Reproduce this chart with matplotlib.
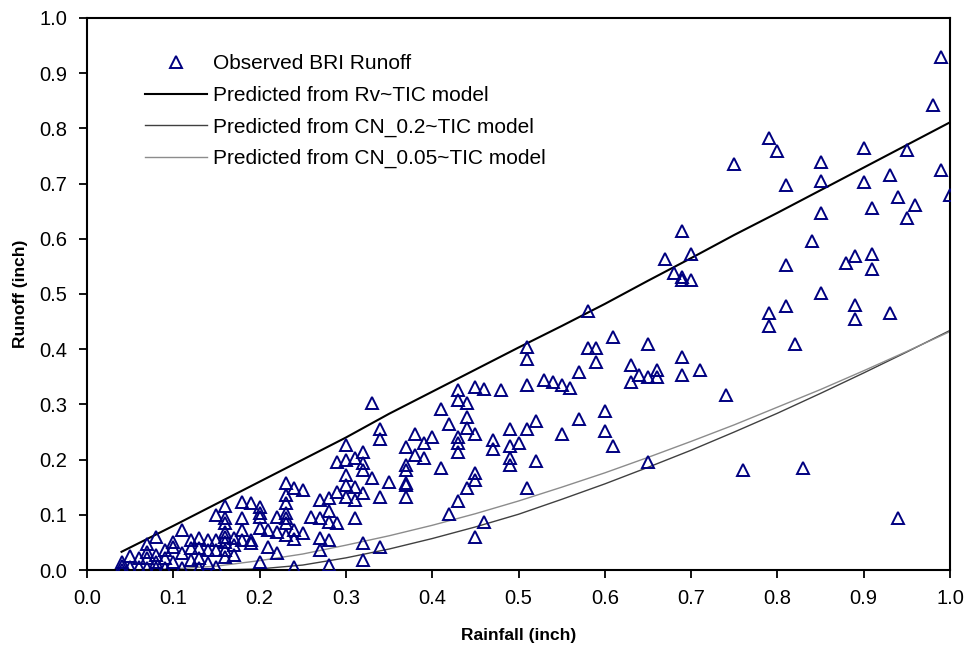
import matplotlib
matplotlib.use("Agg")
import matplotlib.pyplot as plt
from matplotlib.ticker import FormatStrFormatter, MultipleLocator

plt.rcParams['font.family'] = ['Liberation Sans', 'DejaVu Sans']

# Observed BRI events, rainfall (inch) and runoff (inch)
rain = [
    0.04, 0.04, 0.04, 0.05, 0.05, 0.06, 0.06,
    0.07, 0.07, 0.07, 0.07, 0.08, 0.08, 0.08, 0.08,
    0.09, 0.09, 0.09, 0.10, 0.10, 0.10, 0.11, 0.11, 0.11,
    0.12, 0.12, 0.12, 0.13, 0.13, 0.13, 0.13, 0.14, 0.14, 0.14,
    0.15, 0.15, 0.15, 0.15,
    0.16, 0.16, 0.16, 0.16, 0.16, 0.16, 0.16, 0.16,
    0.17, 0.17, 0.17, 0.18, 0.18, 0.18, 0.18, 0.19, 0.19, 0.19,
    0.20, 0.20, 0.20, 0.20, 0.20, 0.21, 0.21, 0.22, 0.22, 0.22,
    0.23, 0.23, 0.23, 0.23, 0.23, 0.23, 0.23,
    0.24, 0.24, 0.24, 0.24, 0.25, 0.25, 0.26,
    0.27, 0.27, 0.27, 0.27, 0.28, 0.28, 0.28, 0.28, 0.28,
    0.29, 0.29, 0.29, 0.30, 0.30, 0.30, 0.30, 0.30,
    0.31, 0.31, 0.31, 0.31, 0.32, 0.32, 0.32, 0.32, 0.32, 0.32,
    0.33, 0.33, 0.34, 0.34, 0.34, 0.34, 0.35,
    0.37, 0.37, 0.37, 0.37, 0.37, 0.37, 0.38, 0.38, 0.39, 0.39,
    0.40, 0.41, 0.41, 0.42, 0.42,
    0.43, 0.43, 0.43, 0.43, 0.43, 0.43, 0.44, 0.44, 0.44, 0.44,
    0.45, 0.45, 0.45, 0.45, 0.45, 0.46, 0.46, 0.47, 0.47, 0.48,
    0.49, 0.49, 0.49, 0.49, 0.50, 0.51, 0.51, 0.51, 0.51, 0.51,
    0.52, 0.52, 0.53, 0.54, 0.55, 0.55, 0.56, 0.57, 0.57,
    0.58, 0.58, 0.59, 0.59, 0.60, 0.60, 0.61, 0.61, 0.63, 0.63, 0.64,
    0.65, 0.65, 0.65, 0.66, 0.66, 0.67, 0.68,
    0.69, 0.69, 0.69, 0.69, 0.69, 0.70, 0.70, 0.71, 0.74, 0.75, 0.76,
    0.79, 0.79, 0.79, 0.80, 0.81, 0.81, 0.81, 0.82, 0.83, 0.84,
    0.85, 0.85, 0.85, 0.85, 0.88, 0.89, 0.89, 0.89, 0.90, 0.90,
    0.91, 0.91, 0.91, 0.93, 0.93, 0.94, 0.94, 0.95, 0.95, 0.96,
    0.98, 0.99, 0.99, 1.00,
]
runoff = [
    0.000, 0.007, 0.015, 0.005, 0.025, 0.005, 0.022,
    0.004, 0.022, 0.033, 0.047, 0.004, 0.015, 0.027, 0.060,
    0.004, 0.022, 0.036, 0.015, 0.042, 0.051, 0.004, 0.031, 0.072,
    0.018, 0.040, 0.054, 0.004, 0.022, 0.040, 0.058, 0.013, 0.036, 0.054,
    0.005, 0.036, 0.054, 0.100,
    0.116, 0.094, 0.085, 0.069, 0.060, 0.051, 0.036, 0.024,
    0.058, 0.046, 0.027, 0.123, 0.094, 0.072, 0.054, 0.121, 0.054, 0.049,
    0.114, 0.103, 0.096, 0.076, 0.014, 0.072, 0.042, 0.096, 0.069, 0.031,
    0.157, 0.136, 0.121, 0.103, 0.094, 0.085, 0.063,
    0.149, 0.072, 0.056, 0.005, 0.145, 0.067, 0.096,
    0.127, 0.094, 0.058, 0.036, 0.130, 0.107, 0.087, 0.054, 0.009,
    0.196, 0.141, 0.085, 0.226, 0.199, 0.172, 0.154, 0.132,
    0.203, 0.150, 0.127, 0.094, 0.214, 0.194, 0.181, 0.140, 0.049, 0.018,
    0.302, 0.167, 0.255, 0.237, 0.132, 0.042, 0.159,
    0.223, 0.190, 0.181, 0.158, 0.154, 0.132, 0.246, 0.208, 0.230, 0.203,
    0.241, 0.291, 0.184, 0.264, 0.101,
    0.326, 0.308, 0.241, 0.230, 0.214, 0.125, 0.302, 0.277, 0.257, 0.149,
    0.332, 0.246, 0.176, 0.163, 0.060, 0.328, 0.087, 0.235, 0.219, 0.326,
    0.255, 0.225, 0.203, 0.190, 0.230, 0.404, 0.382, 0.335, 0.255, 0.149,
    0.270, 0.198, 0.344, 0.341, 0.335, 0.246, 0.330, 0.359, 0.273,
    0.469, 0.402, 0.402, 0.377, 0.288, 0.252, 0.422, 0.225, 0.371, 0.341, 0.353,
    0.410, 0.350, 0.196, 0.362, 0.350, 0.563, 0.538,
    0.614, 0.531, 0.525, 0.386, 0.353, 0.572, 0.525, 0.362, 0.317, 0.735, 0.181,
    0.783, 0.466, 0.442, 0.759, 0.697, 0.552, 0.478, 0.410, 0.184, 0.596,
    0.740, 0.705, 0.647, 0.502, 0.556, 0.569, 0.480, 0.455, 0.765, 0.703,
    0.656, 0.573, 0.546, 0.715, 0.466, 0.676, 0.094, 0.760, 0.637, 0.661,
    0.842, 0.930, 0.724, 0.679,
]

# predicted runoff curves
pred_rain = [0.04, 0.10, 0.15, 0.20, 0.25, 0.30, 0.35, 0.40, 0.45, 0.50,
             0.55, 0.60, 0.65, 0.70, 0.75, 0.80, 0.85, 0.90, 0.95, 1.00]
rv_pred = [0.033, 0.080, 0.120, 0.160, 0.200, 0.240, 0.283, 0.323, 0.363, 0.403,
           0.442, 0.482, 0.524, 0.565, 0.607, 0.647, 0.688, 0.729, 0.770, 0.811]
cn02_pred = [0.000, 0.000, 0.000, 0.002, 0.009, 0.022, 0.038, 0.057, 0.078, 0.101,
             0.128, 0.156, 0.186, 0.217, 0.250, 0.284, 0.320, 0.357, 0.395, 0.434]
cn005_pred = [0.000, 0.002, 0.007, 0.017, 0.029, 0.045, 0.062, 0.081, 0.102, 0.125,
              0.150, 0.176, 0.204, 0.233, 0.263, 0.295, 0.327, 0.361, 0.396, 0.432]

fig = plt.figure(figsize=(9.7, 6.51), dpi=100)
ax = fig.add_axes([0.0897, 0.1244, 0.8897, 0.848])

ax.plot(rain, runoff, linestyle='none', marker='^', markersize=8,
        markerfacecolor='none', markeredgecolor='#000080', markeredgewidth=1.4,
        label='Observed BRI Runoff', zorder=3)
ax.plot(pred_rain, rv_pred, color='black', lw=1.5,
        label='Predicted from Rv~TIC model')
ax.plot(pred_rain, cn02_pred, color='#404040', lw=1.0,
        label='Predicted from CN_0.2~TIC model')
ax.plot(pred_rain, cn005_pred, color='#8c8c8c', lw=1.0,
        label='Predicted from CN_0.05~TIC model')

ax.set_xlim(0, 1.0)
ax.set_ylim(0, 1.0)
ax.xaxis.set_major_locator(MultipleLocator(0.1))
ax.yaxis.set_major_locator(MultipleLocator(0.1))
ax.xaxis.set_major_formatter(FormatStrFormatter('%.1f'))
ax.yaxis.set_major_formatter(FormatStrFormatter('%.1f'))
ax.tick_params(direction='out', length=6, width=1.3, labelsize=14.5, pad=8)
for s in ax.spines.values():
    s.set_linewidth(1.5)

ax.set_xlabel('Rainfall (inch)', fontsize=12.5, fontweight='bold', labelpad=14)
ax.set_ylabel('Runoff (inch)', fontsize=12.5, fontweight='bold', labelpad=8)

ax.legend(loc='upper left', bbox_to_anchor=(0.067, 0.934), frameon=False,
          fontsize=15, handlelength=3.0, handletextpad=0.25, labelspacing=0.6,
          borderpad=0, borderaxespad=0)

fig.savefig('out.png', dpi=100)
